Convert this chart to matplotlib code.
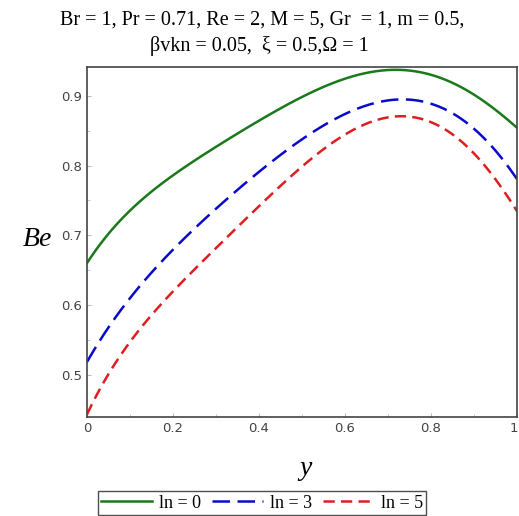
import numpy as np
import matplotlib
matplotlib.use("Agg")
import matplotlib.pyplot as plt
import matplotlib.transforms as mtransforms
from matplotlib.ticker import MultipleLocator

# Data
y_ln0 = [0.0, 0.073, 0.150, 0.228, 0.333, 0.399, 0.476, 0.553, 0.647, 0.724, 0.802, 0.879, 1.0]
be_ln0 = [0.661, 0.717, 0.762, 0.800, 0.840, 0.864, 0.890, 0.912, 0.932, 0.940, 0.931, 0.907, 0.855]
y_ln3 = [0.0, 0.073, 0.150, 0.228, 0.321, 0.399, 0.476, 0.553, 0.647, 0.724, 0.802, 0.879, 0.957, 1.0]
be_ln3 = [0.521, 0.583, 0.645, 0.702, 0.753, 0.789, 0.823, 0.855, 0.887, 0.901, 0.890, 0.857, 0.817, 0.782]
y_ln5 = [0.0, 0.073, 0.150, 0.228, 0.321, 0.399, 0.476, 0.553, 0.658, 0.724, 0.802, 0.879, 0.957, 1.0]
be_ln5 = [0.444, 0.521, 0.588, 0.637, 0.695, 0.740, 0.786, 0.824, 0.862, 0.873, 0.862, 0.826, 0.779, 0.733]
labels = ["ln = 0", "ln = 3", "ln = 5"]


def smooth(x, y, n=300, deg=5):
    # least-squares smoothing through the read points
    x = np.asarray(x, float); y = np.asarray(y, float)
    p = np.polynomial.Polynomial.fit(x, y, deg)
    xs = np.linspace(x[0], x[-1], n)
    return xs, p(xs)


fig = plt.figure(figsize=(5.19, 5.16), dpi=100)
ax = fig.add_axes([0.1676, 0.1925, 0.8284, 0.6785])

serif = "Liberation Serif"
styles = [
    dict(color="#1a7a1a", linestyle="-"),
    dict(color="#0a0acc", linestyle=(0, (7, 3))),
    dict(color="#dd1f1f", linestyle=(0, (4.5, 2.5))),
]
for xv, data, lab, st in zip([y_ln0, y_ln3, y_ln5], [be_ln0, be_ln3, be_ln5], labels, styles):
    xs, ys = smooth(xv, data)
    ax.plot(xs, ys, lw=1.8, label=lab, **st)

ax.set_xlim(0, 1)
ax.set_ylim(0.440, 0.942)
ax.xaxis.set_minor_locator(MultipleLocator(0.1))
ax.yaxis.set_minor_locator(MultipleLocator(0.05))
ax.set_xticks([0, 0.2, 0.4, 0.6, 0.8, 1.0])
ax.set_xticklabels(["0", "0.2", "0.4", "0.6", "0.8", "1"])
ax.set_yticks([0.5, 0.6, 0.7, 0.8, 0.9])
ax.set_yticklabels(["0.5", "0.6", "0.7", "0.8", "0.9"])
ax.tick_params(which="both", direction="in", color="#bbbbbb", labelcolor="#444444",
               labelsize=9.5, length=3)
ax.tick_params(which="minor", length=2)
last = ax.get_xticklabels()[-1]
last.set_transform(last.get_transform() + mtransforms.ScaledTranslation(-3 / 100, 0, fig.dpi_scale_trans))
for s in ax.spines.values():
    s.set_color("#444444"); s.set_linewidth(1.2)

fig.text(0.505, 0.962, "Br = 1, Pr = 0.71, Re = 2, M = 5, Gr  = 1, m = 0.5,",
         ha="center", va="center", family=serif, fontsize=14.5)
fig.text(0.5, 0.910, "\u03b2vkn = 0.05,  \u03be = 0.5,\u03a9 = 1",
         ha="center", va="center", family=serif, fontsize=14.5)
fig.text(0.072, 0.535, "Be", ha="center", va="center", family=serif,
         style="italic", fontsize=20)
fig.text(0.588, 0.093, "y", ha="center", va="center", family=serif,
         style="italic", fontsize=20)

leg = fig.legend(loc="center", bbox_to_anchor=(0.505, 0.025), ncol=3,
                 prop={"family": serif, "size": 13}, frameon=True, fancybox=False,
                 edgecolor="#222222", handlelength=2.8, handletextpad=0.4,
                 columnspacing=0.6, borderpad=0.2, borderaxespad=0)
leg.get_frame().set_linewidth(1.0)

fig.savefig("out.png", dpi=100)
